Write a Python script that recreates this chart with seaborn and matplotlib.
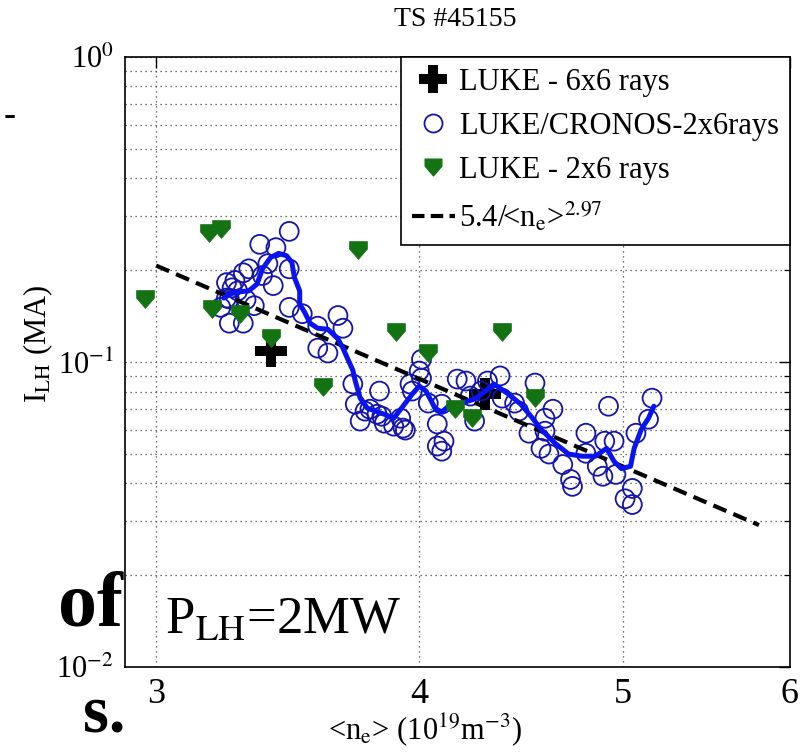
import numpy as np
import pandas as pd
import seaborn as sns
import matplotlib
matplotlib.use("Agg")
import matplotlib.pyplot as plt
from matplotlib.ticker import FixedLocator, NullLocator, LogLocator, FuncFormatter, NullFormatter
from matplotlib.lines import Line2D
from matplotlib.path import Path

# ---------------- data ----------------
cross_x = [3.40, 4.30]
cross_y = [0.109, 0.0785]

green_x = [2.965, 3.18, 3.22, 3.19, 3.29, 3.40, 3.74, 3.60, 3.90, 4.04, 4.16, 4.24, 4.38, 4.54]
green_y = [0.161, 0.264, 0.272, 0.149, 0.144, 0.120, 0.232, 0.0828, 0.1256, 0.107, 0.070, 0.0654, 0.1256, 0.0761]

cronos_x = [3.24, 3.24, 3.25, 3.26, 3.25, 3.28, 3.30, 3.32, 3.30, 3.34,
            3.36, 3.37, 3.39, 3.41, 3.42, 3.47, 3.47, 3.47, 3.52, 3.58,
            3.58, 3.62, 3.66, 3.68, 3.72, 3.73, 3.75, 3.79, 3.82, 3.83,
            3.85, 3.89, 3.92, 3.93, 3.97, 4.00, 4.01, 4.04, 4.08, 4.10,
            4.11, 4.08, 4.10, 4.17, 4.21, 4.23, 4.25, 4.28, 4.31, 4.37,
            4.38, 4.44, 4.46, 4.51, 4.54, 4.57, 4.59, 4.59, 4.61, 4.63,
            4.68, 4.72, 4.73, 4.80, 4.80, 4.86, 4.89, 4.90, 4.92, 4.95,
            4.96, 5.01, 5.05, 5.05, 5.07, 5.14, 5.16, 3.22, 3.84, 3.96,
            4.01, 3.77, 3.94, 3.27, 3.31]
cronos_y = [0.182, 0.162, 0.161, 0.175, 0.134, 0.171, 0.196, 0.202, 0.134, 0.153,
            0.243, 0.192, 0.210, 0.178, 0.237, 0.268, 0.202, 0.151, 0.144, 0.131,
            0.111, 0.107, 0.142, 0.129, 0.0847, 0.0727, 0.064, 0.070, 0.0674, 0.0803,
            0.063, 0.0616, 0.0654, 0.0607, 0.0803, 0.0934, 0.102, 0.0733, 0.0626, 0.051,
            0.055, 0.053, 0.0727, 0.0879, 0.0866, 0.0773, 0.064, 0.0803, 0.0866, 0.090,
            0.0761, 0.0733, 0.069, 0.0584, 0.0853, 0.0521, 0.0654, 0.0593, 0.0499, 0.070,
            0.0461, 0.0412, 0.0391, 0.0584, 0.0502, 0.0455, 0.0422, 0.055, 0.0716, 0.055,
            0.0428, 0.0356, 0.0385, 0.0341, 0.0584, 0.0649, 0.0761, 0.151, 0.0664, 0.0847,
            0.0885, 0.069, 0.0598, 0.185, 0.160]

curve_x = [3.23, 3.25, 3.29, 3.32, 3.35, 3.37, 3.40, 3.43, 3.46, 3.48,
           3.49, 3.51, 3.51, 3.53, 3.55, 3.58, 3.62, 3.66, 3.68, 3.70,
           3.72, 3.73, 3.75, 3.78, 3.85, 3.89, 3.92, 3.97, 4.00, 4.03,
           4.07, 4.10, 4.14, 4.19, 4.25, 4.30, 4.34, 4.41, 4.47, 4.52,
           4.57, 4.64, 4.71, 4.78, 4.85, 4.91, 4.95, 4.99, 5.04, 5.06,
           5.10, 5.14, 5.17]
curve_y = [0.162, 0.167, 0.170, 0.171, 0.180, 0.202, 0.220, 0.227, 0.223, 0.212,
           0.189, 0.171, 0.155, 0.145, 0.134, 0.129, 0.128, 0.119, 0.111, 0.102,
           0.094, 0.0866, 0.0761, 0.0705, 0.0674, 0.0654, 0.070, 0.0785, 0.0834, 0.0803,
           0.0705, 0.0685, 0.0727, 0.0733, 0.0756, 0.0803, 0.0847, 0.0785, 0.0727, 0.0664,
           0.0602, 0.0542, 0.0499, 0.0491, 0.0491, 0.0521, 0.0472, 0.0447, 0.0455, 0.0521,
           0.0602, 0.0654, 0.0716]

fit_x = [3.0, 5.8]
fit_y = [0.207, 0.0292]

x_ticks = [3, 4, 5, 6]
x_ticklabels = ["3", "4", "5", "6"]

labels = ["LUKE - 6x6 rays", "LUKE/CRONOS-2x6rays", "LUKE - 2x6 rays",
          r"5.4/<n$_{\mathrm{e}}$>$^{2.97}$"]

# ---------------- style ----------------
sns.set_theme(style="white")
plt.rcParams["font.family"] = ["Liberation Serif", "DejaVu Serif"]
plt.rcParams["mathtext.fontset"] = "stix"
plt.rcParams["axes.unicode_minus"] = False
for k in ["text.color", "axes.labelcolor", "xtick.color", "ytick.color"]:
    plt.rcParams[k] = "black"

circ_blue = "#1414a8"
line_blue = "#0a14f0"
green = "#137313"
shield = Path([(-1, 1), (1, 1), (1, 0.15), (0, -1), (-1, 0.15), (-1, 1)],
              [Path.MOVETO, Path.LINETO, Path.LINETO, Path.LINETO, Path.LINETO, Path.CLOSEPOLY])

fig = plt.figure(figsize=(8.02, 7.56), dpi=100)
ax = fig.add_axes([0.156, 0.1177, 0.829, 0.807])
ax.set_xscale("log")
ax.set_yscale("log")

cross_df = pd.DataFrame({"x": cross_x, "y": cross_y})
green_df = pd.DataFrame({"x": green_x, "y": green_y})
cronos_df = pd.DataFrame({"x": cronos_x, "y": cronos_y})
curve_df = pd.DataFrame({"x": curve_x, "y": curve_y})
fit_df = pd.DataFrame({"x": fit_x, "y": fit_y})

sns.scatterplot(data=cross_df, x="x", y="y", marker="P", s=520, color="black",
                edgecolor="black", linewidth=0, ax=ax, zorder=3, legend=False)
sns.scatterplot(data=cronos_df, x="x", y="y", marker="o", s=185, color=circ_blue,
                ax=ax, zorder=4, legend=False)
coll = ax.collections[-1]
coll.set_facecolor("none")
coll.set_edgecolor(circ_blue)
coll.set_linewidth(1.3)
sns.lineplot(data=fit_df, x="x", y="y", color="black", lw=3.0, ax=ax, zorder=5,
             estimator=None, sort=False, legend=False)
ax.lines[-1].set_dashes((3.4, 1.8))
sns.lineplot(data=curve_df, x="x", y="y", color=line_blue, lw=3.6, ax=ax, zorder=6,
             estimator=None, sort=False, legend=False)
sns.scatterplot(data=green_df, x="x", y="y", marker=shield, s=165, color=green,
                edgecolor=green, linewidth=0.5, ax=ax, zorder=7, legend=False)

ax.set_xlim(2.9, 6.0)
ax.set_ylim(1e-2, 1)

ax.xaxis.set_major_locator(FixedLocator(x_ticks))
ax.xaxis.set_minor_locator(NullLocator())
ax.set_xticklabels(x_ticklabels)
ax.yaxis.set_major_locator(LogLocator(base=10))
ax.yaxis.set_minor_locator(LogLocator(base=10, subs=np.arange(2, 10)))
ax.yaxis.set_minor_formatter(NullFormatter())
ax.yaxis.set_major_formatter(FuncFormatter(lambda v, p: r"10$^{\mathrm{%d}}$" % int(round(np.log10(v)))))

ax.tick_params(which="both", direction="in", top=True, right=True, colors="black")
ax.tick_params(axis="x", labelsize=26)
ax.tick_params(axis="y", labelsize=22)
ax.tick_params(which="major", length=8, width=1.0, pad=8)
ax.tick_params(which="minor", length=4, width=0.9)

grid_kw = dict(color="#444444", linestyle=(0, (1, 3)), linewidth=0.9)
ax.grid(True, which="major", axis="both", **grid_kw)
ax.grid(True, which="minor", axis="y", **grid_kw)
ax.set_axisbelow(True)
for sp in ax.spines.values():
    sp.set_color("black")
    sp.set_linewidth(1.2)

ax.set_xlabel(r"<n$_{\mathrm{e}}$> (10$^{19}$m$^{-3}$)", fontsize=22)
ax.xaxis.set_label_coords(0.451, -0.072)
ax.set_ylabel(r"I$_{\mathrm{LH}}$ (MA)", fontsize=22)
ax.yaxis.set_label_coords(-0.105, 0.53)

fig.text(455 / 802, 1 - 20 / 756, "TS #45155", ha="center", va="center", fontsize=20)
ax.text(0.06, 0.075, r"P$_{\mathrm{LH}}$=2MW", transform=ax.transAxes, fontsize=38,
        ha="left", va="center")

handles = [
    Line2D([], [], marker="P", color="black", ls="none", markersize=20, mew=0),
    Line2D([], [], marker="o", mfc="none", mec=circ_blue, ls="none", markersize=13, mew=1.3),
    Line2D([], [], marker=shield, color=green, ls="none", markersize=12),
    Line2D([], [], color="black", lw=3.0, dashes=(3.0, 1.5)),
]
leg = ax.legend(handles, labels, loc="upper right", borderaxespad=0, fancybox=False,
                edgecolor="black", framealpha=1,
                prop={"family": "Liberation Serif", "size": 22},
                handlelength=1.4, handletextpad=0.15, labelspacing=0.5, borderpad=0.35)
leg.get_frame().set_linewidth(1.2)
leg.set_zorder(10)

# fragments of slide text at the left edge
fig.text(123 / 802, 1 - 625 / 756, "of", ha="right", va="baseline", fontsize=56,
         fontweight="bold")
fig.text(125 / 802, 1 - 731 / 756, "s.", ha="right", va="baseline", fontsize=48,
         fontweight="bold")
fig.text(0.004, 1 - 117 / 756, "-", ha="left", va="center", fontsize=26, fontweight="bold")

fig.savefig("out.png", dpi=100, facecolor="white")
